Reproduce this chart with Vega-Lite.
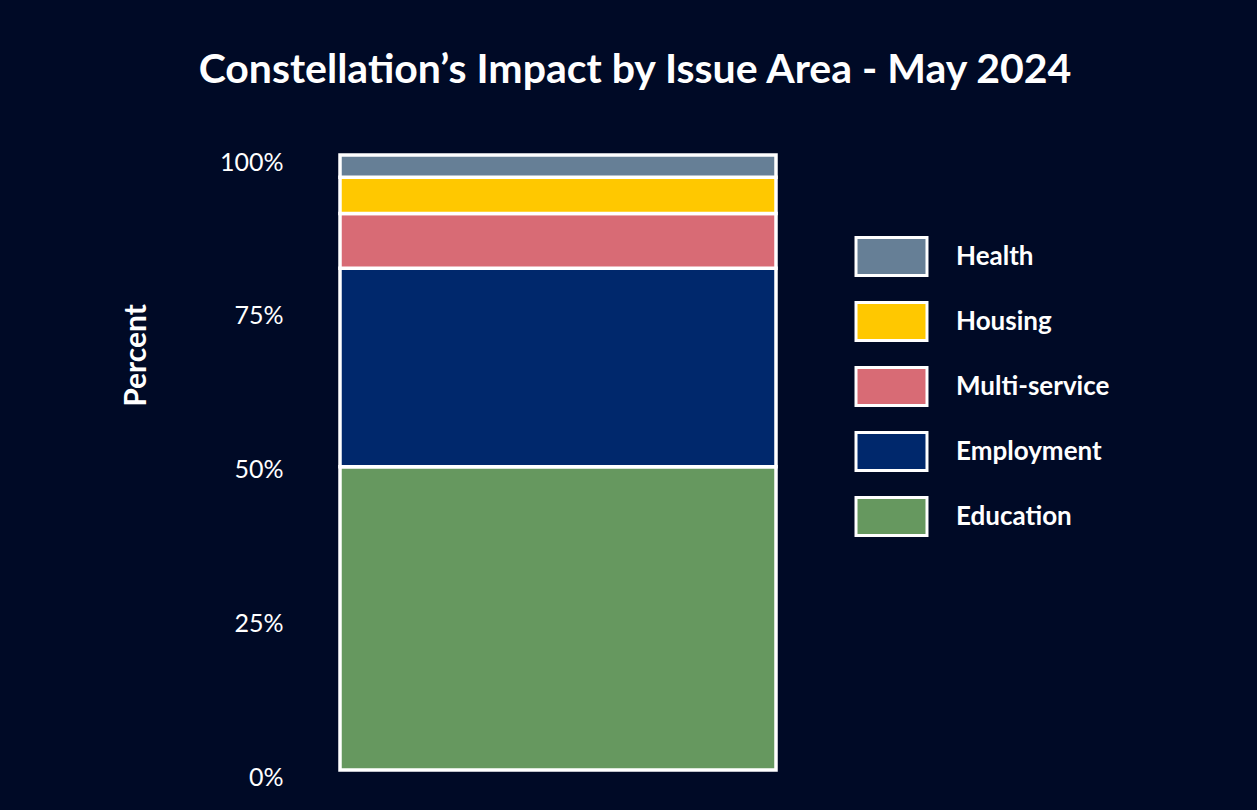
{
  "$schema": "https://vega.github.io/schema/vega-lite/v6.json",
  "autosize": {"type": "none"},
  "padding": {"left": 340, "top": 155, "right": 481, "bottom": 40},
  "width": 436,
  "height": 615,
  "background": "#000a26",
  "title": {
    "text": "Constellation’s Impact by Issue Area - May 2024",
    "font": "Lato",
    "fontWeight": "bold",
    "fontSize": 41,
    "color": "#ffffff",
    "anchor": "middle",
    "frame": "group",
    "dx": 77,
    "offset": 58
  },
  "config": {
    "view": {"stroke": null},
    "font": "Lato"
  },
  "data": {
    "values": [
      {"period": "May 2024", "area": "Education", "pct": 49.3, "rank": 1},
      {"period": "May 2024", "area": "Employment", "pct": 32.3, "rank": 2},
      {"period": "May 2024", "area": "Multi-service", "pct": 8.9, "rank": 3},
      {"period": "May 2024", "area": "Housing", "pct": 5.9, "rank": 4},
      {"period": "May 2024", "area": "Health", "pct": 3.6, "rank": 5}
    ]
  },
  "mark": {"type": "bar", "stroke": "#ffffff", "strokeWidth": 3.5},
  "encoding": {
    "x": {
      "field": "period",
      "type": "nominal",
      "scale": {"paddingInner": 0, "paddingOuter": 0},
      "axis": null
    },
    "y": {
      "field": "pct",
      "type": "quantitative",
      "stack": "zero",
      "scale": {"domain": [0, 100], "nice": false},
      "axis": {
        "title": "Percent",
        "titleColor": "#ffffff",
        "titleFont": "Lato",
        "titleFontWeight": "bold",
        "titleFontSize": 30,
        "titleAngle": 270,
        "titleAlign": "center",
        "titleBaseline": "middle",
        "titleX": -204,
        "titleY": 200,
        "values": [0, 25, 50, 75, 100],
        "labelExpr": "datum.value + '%'",
        "labelColor": "#ffffff",
        "labelFont": "Lato",
        "labelFontSize": 25,
        "labelAlign": "right",
        "labelPadding": 57,
        "labelOffset": 7,
        "labelBaseline": "middle",
        "domain": false,
        "ticks": false,
        "grid": false
      }
    },
    "color": {
      "field": "area",
      "type": "nominal",
      "scale": {
        "domain": ["Health", "Housing", "Multi-service", "Employment", "Education"],
        "range": ["#667f96", "#ffc800", "#d86b75", "#00286c", "#66985f"]
      },
      "legend": {
        "title": null,
        "orient": "none",
        "legendX": 531,
        "legendY": 81,
        "symbolType": "M-1.868,-1L1.868,-1L1.868,1L-1.868,1Z",
        "symbolSize": 1444,
        "symbolStrokeColor": "#ffffff",
        "symbolStrokeWidth": 3,
        "symbolOpacity": 1,
        "symbolFillOpacity": 1,
        "labelColor": "#ffffff",
        "labelFont": "Lato",
        "labelFontWeight": "bold",
        "labelFontSize": 26,
        "labelOffset": 44,
        "rowPadding": 14,
        "labelLimit": 400
      }
    },
    "order": {"field": "rank", "type": "quantitative"}
  }
}
